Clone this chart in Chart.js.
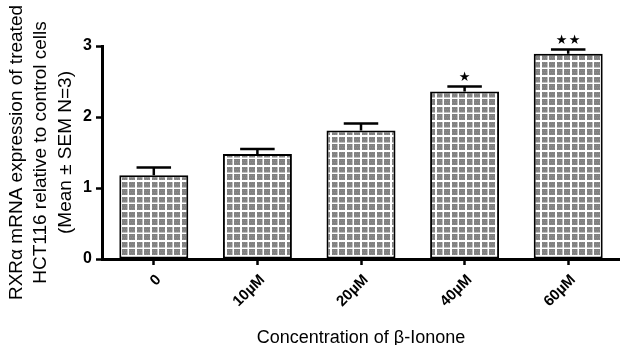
<!DOCTYPE html>
<html>
<head>
<meta charset="utf-8">
<script src="https://cdn.jsdelivr.net/npm/chart.js@4/dist/chart.umd.min.js"></script>
<style>
html,body{margin:0;padding:0;background:#fff;}
#wrap{width:620px;height:345px;position:relative;}
</style>
</head>
<body>
<div id="wrap"><canvas id="c" width="620" height="345"></canvas></div>
<script>
const categories = ['0', '10\u00b5M', '20\u00b5M', '40\u00b5M', '60\u00b5M'];
const meanValues = [1.18, 1.48, 1.81, 2.36, 2.89];
const semValues = [0.11, 0.07, 0.10, 0.07, 0.06];
const significance = ['', '', '', '\u2605', '\u2605\u2605'];
const yTicks = [0, 1, 2, 3];
const yTitle = ['RXR\u03b1 mRNA expression of treated', 'HCT116 relative to control cells', '(Mean \u00b1 SEM N=3)'];
const xTitle = 'Concentration of \u03b2-Ionone';

const FONT = "'Liberation Sans', Arial, sans-serif";

function makePattern() {
  const t = document.createElement('canvas');
  t.width = 15; t.height = 15;
  const g = t.getContext('2d');
  g.fillStyle = '#808080';
  g.fillRect(0, 0, 15, 15);
  g.fillStyle = '#8e8e8e';
  for (let y = 0; y < 15; y += 2) for (let x = (y % 4 === 0 ? 0 : 1); x < 15; x += 2) g.fillRect(x, y, 1, 1);
  g.fillStyle = '#ffffff';
  g.fillRect(0, 0, 15, 2);
  g.fillRect(0, 7.5, 15, 1.5);
  g.fillRect(0, 0, 2, 15);
  g.fillRect(7.5, 0, 1.5, 15);
  return document.getElementById('c').getContext('2d').createPattern(t, 'repeat');
}

const errorBars = {
  id: 'errorBars',
  afterDatasetsDraw(chart) {
    const ctx = chart.ctx;
    const meta = chart.getDatasetMeta(0);
    const ys = chart.scales.y;
    ctx.save();
    ctx.strokeStyle = '#000';
    ctx.lineWidth = 2.5;
    meta.data.forEach((bar, i) => {
      const x = bar.x;
      const top = ys.getPixelForValue(meanValues[i]);
      const yErr = ys.getPixelForValue(meanValues[i] + semValues[i]);
      const half = bar.width * 0.25;
      ctx.beginPath();
      ctx.moveTo(x, top);
      ctx.lineTo(x, yErr);
      ctx.moveTo(x - half, yErr);
      ctx.lineTo(x + half, yErr);
      ctx.stroke();
      const stars = Array.from(significance[i]);
      if (stars.length) {
        ctx.fillStyle = '#000';
        ctx.font = "13px 'DejaVu Sans', sans-serif";
        ctx.textAlign = 'center';
        ctx.textBaseline = 'middle';
        const gap = 13;
        stars.forEach((s, k) => {
          const sx = x + (k - (stars.length - 1) / 2) * gap;
          ctx.fillText(s, sx, yErr - 8.5);
        });
      }
    });
    ctx.restore();
  }
};

new Chart(document.getElementById('c'), {
  type: 'bar',
  data: {
    labels: categories,
    datasets: [{
      data: meanValues,
      backgroundColor: makePattern(),
      borderColor: '#000',
      borderWidth: 2,
      borderSkipped: false,
      barPercentage: 0.666,
      categoryPercentage: 1.0
    }]
  },
  options: {
    responsive: false,
    animation: false,
    devicePixelRatio: 1,
    layout: { padding: { top: 46, right: 0, left: 0, bottom: 0 } },
    plugins: { legend: { display: false }, tooltip: { enabled: false } },
    scales: {
      x: {
        offset: true,
        grid: { display: true, drawOnChartArea: false, drawTicks: true, offset: false, tickLength: 6, tickColor: '#000', tickWidth: 2.5, color: '#000' },
        border: { display: true, color: '#000', width: 3 },
        ticks: { color: '#000', font: { family: FONT, size: 15, weight: 'bold' }, minRotation: 45, maxRotation: 45, padding: 6, labelOffset: 5 },
        title: { display: true, text: xTitle, color: '#000', font: { family: FONT, size: 18 }, padding: { top: 0, bottom: -4 } },
        afterFit(scale) { scale.height = 86; }
      },
      y: {
        min: 0, max: 3,
        afterBuildTicks(scale) { scale.ticks = yTicks.map(v => ({ value: v })); },
        grid: { display: true, drawOnChartArea: false, drawTicks: true, tickLength: 6, tickColor: '#000', tickWidth: 2.5, color: '#000' },
        border: { display: true, color: '#000', width: 3 },
        ticks: { color: '#000', font: { family: FONT, size: 16, weight: 'bold' }, padding: 4 },
        title: { display: true, text: yTitle, color: '#000', font: { family: FONT, size: 19, lineHeight: 1.27 }, padding: { top: 5, bottom: 0 } },
        afterFit(scale) { scale.width = 102; }
      }
    }
  },
  plugins: [errorBars]
});
</script>
</body>
</html>
